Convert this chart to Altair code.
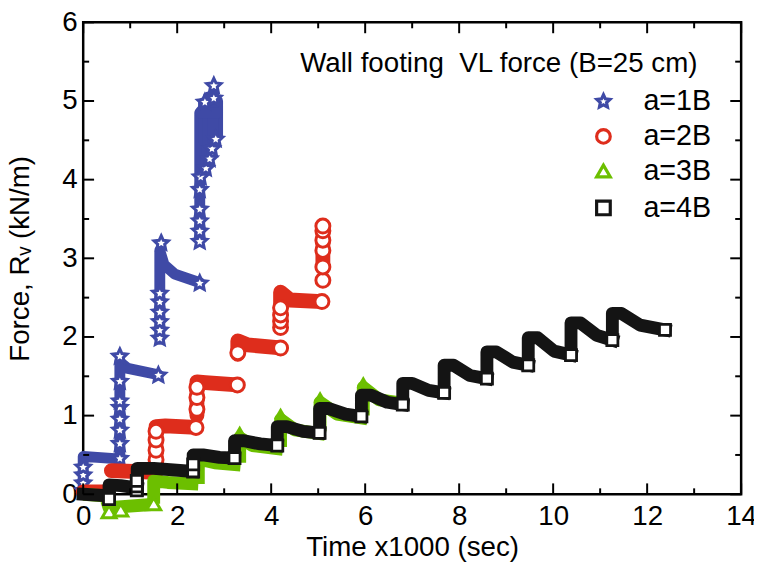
import math
import altair as alt
import pandas as pd

FONT = "Liberation Sans"
W, H = 665, 477
X_MAX, Y_MAX = 14, 6


def star_path(inner=0.48):
    pts = []
    for k in range(10):
        a = math.radians(-90 + 36 * k)
        r = 1.0 if k % 2 == 0 else inner
        pts.append(f"{r * math.cos(a):.3f},{r * math.sin(a) + 0.08:.3f}")
    return "M" + "L".join(pts) + "Z"


SERIES = ["a=1B", "a=2B", "a=3B", "a=4B"]
COLORS = ["#3F4AA6", "#DE2D1C", "#6CBF00", "#141414"]
SHAPES = [star_path(), "circle", "triangle-up", "square"]
LEGEND_TITLE = "Wall footing\u00a0 VL force (B=25 cm)"
X_TICKS = [0, 2, 4, 6, 8, 10, 12, 14]
X_MINOR = [1, 3, 5, 7, 9, 11, 13]
Y_TICKS = [0, 1, 2, 3, 4, 5, 6]
Y_MINOR = [0.5, 1.5, 2.5, 3.5, 4.5, 5.5]

# ---- a=1B (blue stars): dense runs of markers ----
blue_runs = [
    [(0.0, 0.0), (0.0, 0.48), (0.3, 0.47), (0.75, 0.45)],
    [(0.78, 0.46), (0.78, 1.68), (0.95, 1.6), (1.6, 1.52)],
    [(1.63, 1.97), (1.63, 3.1), (1.72, 2.92), (1.95, 2.8), (2.48, 2.69)],
    [(2.48, 3.25), (2.48, 4.85), (2.62, 4.95), (2.78, 5.1)],
    [(2.6, 4.15), (2.66, 4.6), (2.86, 4.6)],
    [(2.86, 4.55), (2.86, 5.0), (2.72, 5.05)],
    [(2.56, 4.5), (2.56, 4.98)],
    [(2.66, 4.45), (2.66, 5.05)],
    [(2.76, 4.5), (2.76, 5.08)],
    [(2.5, 4.85), (2.86, 4.85)],
]
blue_pts = [(0.0, 0.05), (0.0, 0.15), (0.0, 0.25), (0.0, 0.35), (0.78, 0.46), (0.78, 0.65),
            (0.78, 0.82), (0.78, 0.96), (0.78, 1.11), (0.78, 1.19), (0.78, 1.44), (0.78, 1.76),
            (1.6, 1.52), (1.63, 1.99), (1.63, 2.09), (1.63, 2.2), (1.63, 2.32), (1.63, 2.45),
            (1.63, 2.56), (1.66, 3.2), (2.48, 2.69), (2.48, 3.22), (2.48, 3.35), (2.48, 3.48),
            (2.48, 3.63), (2.48, 3.88), (2.5, 4.04), (2.61, 4.15), (2.69, 4.27), (2.74, 4.4),
            (2.82, 4.52), (2.59, 4.99), (2.78, 5.04), (2.78, 5.2)]

# ---- a=2B (red circles) ----
red_runs = [
    [(0.0, 0.03), (0.5, 0.03)],
    [(0.6, 0.3), (1.55, 0.28)],
    [(1.55, 0.42), (1.55, 0.86), (1.75, 0.87), (2.4, 0.85)],
    [(2.42, 1.0), (2.42, 1.43), (2.6, 1.42), (3.28, 1.39)],
    [(3.29, 1.78), (3.29, 1.95), (3.5, 1.9), (4.2, 1.86)],
    [(4.2, 2.12), (4.2, 2.57), (4.4, 2.47), (5.08, 2.45)],
    [(5.1, 2.95), (5.1, 3.38)],
]
red_pts = [(1.55, 0.44), (1.55, 0.56), (1.55, 0.69), (1.55, 0.8), (2.4, 0.85), (2.42, 1.08),
           (2.42, 1.23), (2.42, 1.36), (3.28, 1.39), (3.29, 1.8), (4.2, 1.86), (4.2, 2.12),
           (4.2, 2.2), (4.2, 2.28), (4.2, 2.37), (5.08, 2.45), (5.1, 2.72), (5.1, 2.89),
           (5.1, 3.1), (5.1, 3.23), (5.1, 3.35), (5.1, 3.41)]

# ---- a=3B (green triangles) ----
green_runs = [
    [(0.0, 0.0), (0.45, -0.02)],
    [(0.5, -0.08), (0.55, -0.17), (1.45, -0.13)],
    [(1.5, -0.12), (1.5, 0.17), (1.8, 0.15), (2.45, 0.13)],
    [(2.45, 0.13), (2.45, 0.45), (2.8, 0.4), (3.35, 0.37)],
    [(3.33, 0.4), (3.33, 0.72), (3.6, 0.62), (4.25, 0.57)],
    [(4.2, 0.6), (4.2, 0.95), (4.5, 0.82), (5.15, 0.76)],
    [(5.04, 0.8), (5.04, 1.17), (5.4, 1.02), (6.05, 0.96)],
    [(5.96, 1.0), (5.96, 1.36), (6.3, 1.2), (6.9, 1.15)],
]
green_peaks = [(3.33, 0.8), (4.2, 1.03), (5.04, 1.24), (5.96, 1.43)]
green_pts = [(0.55, -0.22), (0.8, -0.2), (1.5, -0.12)]

# ---- a=4B (black squares) ----
black_runs = [
    [(0.0, 0.0), (0.55, -0.02)],
    [(0.55, -0.02), (0.55, 0.12), (0.8, 0.11), (1.15, 0.08)],
    [(1.15, 0.05), (1.15, 0.33), (1.5, 0.33), (2.34, 0.29)],
    [(2.34, 0.29), (2.34, 0.5), (2.55, 0.5), (2.9, 0.47), (3.22, 0.46)],
    [(3.22, 0.46), (3.22, 0.68), (3.42, 0.68), (3.77, 0.64), (4.13, 0.62)],
    [(4.13, 0.62), (4.13, 0.86), (4.33, 0.86), (4.68, 0.8), (5.03, 0.78)],
    [(5.03, 0.78), (5.03, 1.09), (5.23, 1.09), (5.58, 1.02), (5.92, 0.99)],
    [(5.92, 0.99), (5.92, 1.26), (6.12, 1.26), (6.47, 1.17), (6.8, 1.14)],
    [(6.8, 1.14), (6.8, 1.41), (7.0, 1.41), (7.35, 1.32), (7.68, 1.29)],
    [(7.68, 1.29), (7.68, 1.64), (7.88, 1.64), (8.23, 1.51), (8.59, 1.47)],
    [(8.59, 1.47), (8.59, 1.81), (8.79, 1.81), (9.14, 1.68), (9.47, 1.64)],
    [(9.47, 1.64), (9.47, 1.99), (9.67, 1.99), (10.02, 1.82), (10.38, 1.77)],
    [(10.38, 1.77), (10.38, 2.18), (10.58, 2.18), (10.93, 2.02), (11.26, 1.96)],
    [(11.26, 1.96), (11.26, 2.30), (11.45, 2.30), (11.85, 2.15), (12.38, 2.09)],
]
black_pts = [(0.55, -0.06), (1.14, 0.05), (1.14, 0.1), (1.14, 0.17), (2.34, 0.29), (2.34, 0.38),
             (3.22, 0.46), (4.13, 0.62), (5.03, 0.78), (5.92, 0.99), (6.8, 1.14), (7.68, 1.29),
             (8.59, 1.47), (9.47, 1.64), (10.38, 1.77), (11.26, 1.96), (12.38, 2.09)]

# layout constants (legend placement in axis units, tick lengths in pixels)
LEG_SYM_T, LEG_TXT_T, LEG_TITLE_T, LEG_TITLE_F = 11.07, 11.92, 13.07, 5.47
LEG_ROW_F = [5.0, 4.55, 4.11, 3.64]
MAJ_PX, MIN_PX = 11, 6

xs = alt.Scale(domain=[0, X_MAX], nice=False, zero=False)
ys = alt.Scale(domain=[0, Y_MAX], nice=False, zero=False)
cscale = alt.Scale(domain=SERIES, range=COLORS)
sscale = alt.Scale(domain=SERIES, range=SHAPES)

x_axis = alt.Axis(values=X_TICKS, title="Time x1000 (sec)", domain=False, ticks=False,
                  grid=False, labelFont=FONT, labelFontSize=28, labelColor="black", labelPadding=9,
                  labelFlush=False, titleFont=FONT, titleFontSize=28,
                  titleFontWeight="normal", titleColor="black", titlePadding=3)
y_axis = alt.Axis(values=Y_TICKS, title="Force, R\u1d65 (kN/m)", domain=False, ticks=False,
                  grid=False, labelFont=FONT, labelFontSize=28, labelColor="black", labelPadding=6,
                  labelFlush=False, titleFont=FONT, titleFontSize=28,
                  titleFontWeight="normal", titleColor="black", titlePadding=28)


def X(field="t"):
    return alt.X(f"{field}:Q", scale=xs, axis=x_axis)


def Y(field="f"):
    return alt.Y(f"{field}:Q", scale=ys, axis=y_axis)


def runs_df(runs):
    rows = []
    for s, pts in enumerate(runs):
        for i, (t, f) in enumerate(pts):
            rows.append({"stage": s, "i": i, "t": t, "f": f})
    return pd.DataFrame(rows)


def band(runs, color, width, cap):
    return alt.Chart(runs_df(runs)).mark_line(
        color=color, strokeWidth=width, strokeCap=cap, strokeJoin="round"
    ).encode(x=X(), y=Y(), detail="stage:N", order="i:Q")


def markers(pts, k, size, sw):
    df = pd.DataFrame({"t": [p[0] for p in pts], "f": [p[1] for p in pts], "series": SERIES[k]})
    return alt.Chart(df).mark_point(filled=False, fill="white", size=size, strokeWidth=sw,
                                    opacity=1).encode(
        x=X(), y=Y(),
        color=alt.Color("series:N", scale=cscale, legend=None),
        shape=alt.Shape("series:N", scale=sscale, legend=None))


green_peak_layer = alt.Chart(pd.DataFrame({"t": [p[0] for p in green_peaks],
                                           "f": [p[1] for p in green_peaks]})).mark_point(
    shape="triangle-up", filled=True, color=COLORS[2], size=180, opacity=1
).encode(x=X(), y=Y())


def xticks(vals, px, top):
    d = px * Y_MAX / H
    f0 = Y_MAX if top else 0
    f1 = f0 - d if top else d
    df = pd.DataFrame({"t": vals, "f": f0, "f2": f1})
    return alt.Chart(df).mark_rule(color="black", strokeWidth=2).encode(
        x=X(), y=Y(), y2="f2:Q")


def yticks(vals, px, right):
    d = px * X_MAX / W
    t0 = X_MAX if right else 0
    t1 = t0 - d if right else d
    df = pd.DataFrame({"f": vals, "t": t0, "t2": t1})
    return alt.Chart(df).mark_rule(color="black", strokeWidth=2).encode(
        y=Y(), x=X(), x2="t2:Q")


ticks = [
    xticks(X_TICKS, MAJ_PX, False), xticks(X_MINOR, MIN_PX, False),
    xticks(X_TICKS, MAJ_PX, True), xticks(X_MINOR, MIN_PX, True),
    yticks(Y_TICKS, MAJ_PX, False), yticks(Y_MINOR, MIN_PX, False),
    yticks(Y_TICKS, MAJ_PX, True), yticks(Y_MINOR, MIN_PX, True),
]

leg_df = pd.DataFrame({"series": SERIES, "f": LEG_ROW_F, "t": LEG_SYM_T, "tt": LEG_TXT_T})
legend_layers = [
    alt.Chart(pd.DataFrame({"txt": [LEGEND_TITLE], "t": [LEG_TITLE_T], "f": [LEG_TITLE_F]})).mark_text(
        align="right", baseline="middle", font=FONT, fontSize=28, color="black"
    ).encode(x=X(), y=Y(), text="txt:N"),
    alt.Chart(leg_df).mark_point(filled=False, fill="white", size=190, strokeWidth=3.2,
                                 opacity=1).encode(
        x=X(), y=Y(),
        color=alt.Color("series:N", scale=cscale, legend=None),
        shape=alt.Shape("series:N", scale=sscale, legend=None)),
    alt.Chart(leg_df).mark_text(align="left", baseline="middle", font=FONT, fontSize=29,
                                color="black").encode(x=X("tt"), y=Y(), text="series:N"),
]

layers = [
    band(blue_runs, COLORS[0], 11, "round"), markers(blue_pts, 0, 230, 3),
    band(red_runs, COLORS[1], 15, "round"), markers(red_pts, 1, 200, 3),
    band(green_runs, COLORS[2], 13, "butt"), green_peak_layer, markers(green_pts, 2, 200, 3),
    band(black_runs, COLORS[3], 13, "square"), markers(black_pts, 3, 125, 2.8),
] + ticks + legend_layers

chart = alt.layer(*layers).properties(
    width=W, height=H, autosize="none",
    padding={"left": 76, "top": 11.5, "right": 13, "bottom": 70},
).configure_view(stroke="black", strokeWidth=2.5)

chart.save("out.html", embed_options={"renderer": "svg", "actions": False})
